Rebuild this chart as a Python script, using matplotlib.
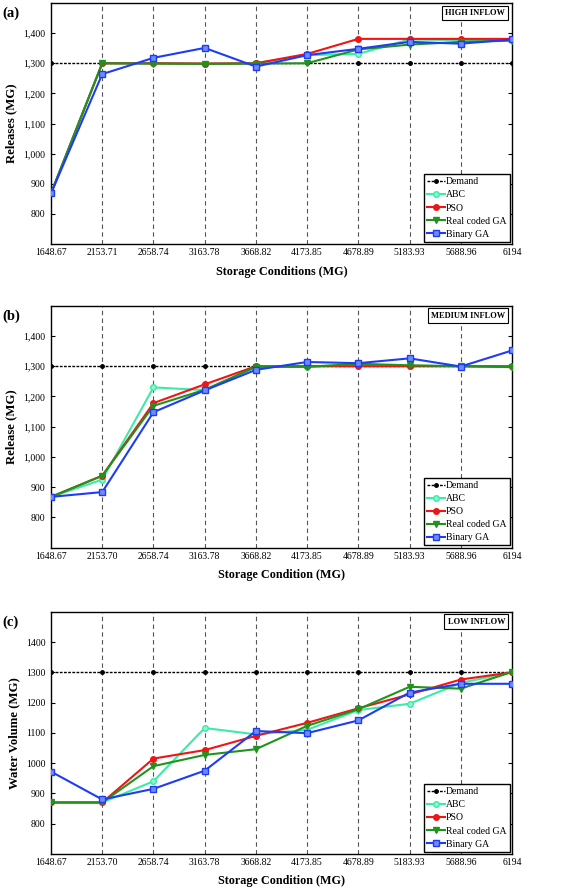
import matplotlib
matplotlib.use("Agg")
import matplotlib.pyplot as plt

plt.rcParams["font.family"] = ["Liberation Serif", "DejaVu Serif"]

storage_a = ["1648.67", "2153.71", "2658.74", "3163.78", "3668.82",
             "4173.85", "4678.89", "5183.93", "5688.96", "6194"]
storage_bc = ["1648.67", "2153.70", "2658.74", "3163.78", "3668.82",
              "4173.85", "4678.89", "5183.93", "5688.96", "6194"]
x_vals = [1648.67, 2153.71, 2658.74, 3163.78, 3668.82,
          4173.85, 4678.89, 5183.93, 5688.96, 6194]

demand = [1300] * 10

# (a) high inflow
abc_a = [868, 1300, 1300, 1298, 1300, 1327, 1331, 1379, 1377, 1377]
pso_a = [868, 1300, 1300, 1299, 1300, 1331, 1381, 1381, 1381, 1381]
rga_a = [868, 1300, 1299, 1298, 1299, 1300, 1346, 1362, 1371, 1375]
bga_a = [868, 1264, 1318, 1351, 1289, 1327, 1348, 1371, 1365, 1379]

# (b) medium inflow
abc_b = [868, 925, 1230, 1221, 1297, 1299, 1305, 1302, 1300, 1297]
pso_b = [868, 938, 1178, 1240, 1300, 1300, 1300, 1300, 1300, 1300]
rga_b = [868, 938, 1169, 1222, 1298, 1298, 1308, 1303, 1300, 1297]
bga_b = [868, 884, 1148, 1220, 1288, 1314, 1310, 1326, 1299, 1352]

# (c) low inflow
abc_c = [870, 870, 940, 1116, 1095, 1110, 1175, 1196, 1265, 1300]
pso_c = [870, 870, 1015, 1043, 1090, 1133, 1181, 1227, 1276, 1300]
rga_c = [870, 870, 990, 1027, 1046, 1123, 1178, 1252, 1246, 1301]
bga_c = [972, 880, 915, 975, 1106, 1099, 1141, 1233, 1262, 1262]

yticks = [800, 900, 1000, 1100, 1200, 1300, 1400]

panels = [
    ("(a)", "HIGH INFLOW", "Releases (MG)", "Storage Conditions (MG)", storage_a,
     abc_a, pso_a, rga_a, bga_a, True, [0.0898, 0.7255, 0.8116, 0.2711]),
    ("(b)", "MEDIUM INFLOW", "Release (MG)", "Storage Condition (MG)", storage_bc,
     abc_b, pso_b, rga_b, bga_b, True, [0.0898, 0.3839, 0.8116, 0.2722]),
    ("(c)", "LOW INFLOW", "Water Volume (MG)", "Storage Condition (MG)", storage_bc,
     abc_c, pso_c, rga_c, bga_c, False, [0.0898, 0.0394, 0.8116, 0.2725]),
]

fig = plt.figure(figsize=(5.68, 8.89), dpi=100)

for tag, note, ylab, xlab, xlabels, abc, pso, rga, bga, comma, pos in panels:
    ax = fig.add_axes(pos)
    for xv in x_vals[1:-1]:
        ax.axvline(xv, color="#555555", linestyle=(0, (4, 3)), linewidth=0.8, zorder=0)
    ax.plot(x_vals, demand, color="black", linestyle=(0, (2, 1)), linewidth=1.0,
            marker="o", markersize=2.5, label="Demand", zorder=2)
    ax.plot(x_vals, abc, color="#3CEBA5", linewidth=1.5, marker="o", markersize=4,
            markerfacecolor="#8FF5CC", label="ABC", zorder=3)
    ax.plot(x_vals, pso, color="#F01414", linewidth=1.5, marker="o", markersize=4,
            label="PSO", zorder=4)
    ax.plot(x_vals, rga, color="#22921E", linewidth=1.5, marker="v", markersize=4.5,
            label="Real coded GA", zorder=5)
    ax.plot(x_vals, bga, color="#1E3CF5", linewidth=1.5, marker="s", markersize=4,
            markerfacecolor="#6E8CFF", label="Binary GA", zorder=6)

    ax.set_xlim(x_vals[0], x_vals[-1])
    ax.set_ylim(700, 1500)
    ax.set_xticks(x_vals)
    ax.set_xticklabels(xlabels)
    ax.set_yticks(yticks)
    if comma:
        ax.set_yticklabels([f"{v:,}" for v in yticks])
    else:
        ax.set_yticklabels([str(v) for v in yticks])
    ax.tick_params(axis="both", direction="in", labelsize=7, length=3,
                   right=True, pad=4)
    ax.tick_params(axis="x", length=0, pad=3)
    for s in ax.spines.values():
        s.set_linewidth(1.0)

    ax.set_xlabel(xlab, fontsize=8.7, fontweight="bold", labelpad=6)
    ax.set_ylabel(ylab, fontsize=9.2, fontweight="bold", labelpad=4)

    leg = ax.legend(loc="lower right", fontsize=7, frameon=True, fancybox=False,
                    framealpha=1, edgecolor="black", handlelength=1.9,
                    handletextpad=0.1, borderpad=0.3, labelspacing=0.42,
                    borderaxespad=0.25)
    leg.get_frame().set_linewidth(1.0)

    ax.text(0.985, 0.975, note, transform=ax.transAxes, ha="right", va="top",
            fontsize=6, fontweight="bold",
            bbox=dict(boxstyle="square,pad=0.4", facecolor="white",
                      edgecolor="black", linewidth=0.8))

    bbox = ax.get_position()
    fig.text(0.005, bbox.y1 - 0.012, tag, fontsize=10.5, fontweight="bold",
             ha="left", va="center")

fig.savefig("out.png", dpi=100)
